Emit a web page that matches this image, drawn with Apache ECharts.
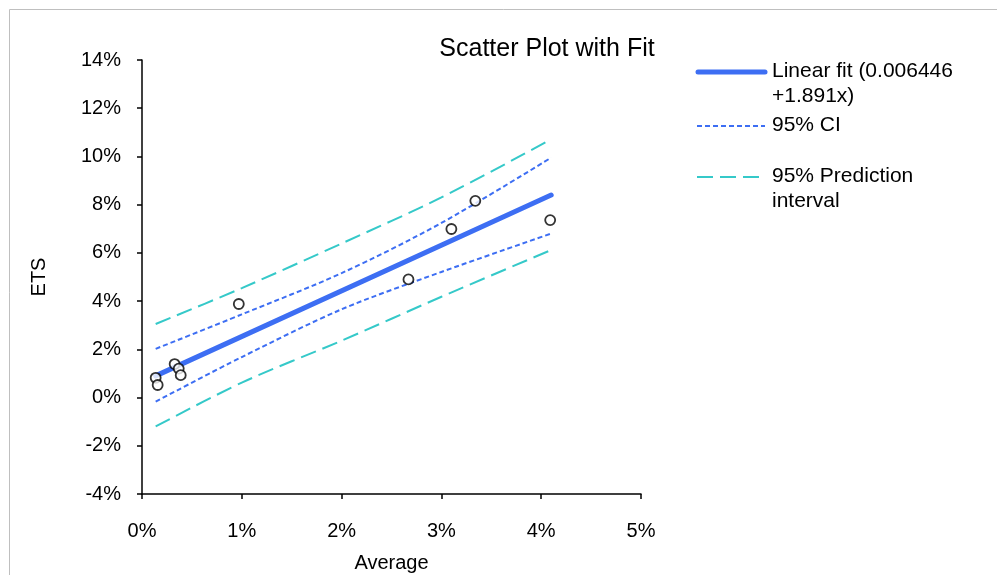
<!DOCTYPE html>
<html>
<head>
<meta charset="utf-8">
<script src="https://cdn.jsdelivr.net/npm/echarts@6/dist/echarts.min.js"></script>
<style>
html,body{margin:0;padding:0;background:#fff;}
#chart{width:997px;height:575px;}
</style>
</head>
<body>
<div id="chart"></div>
<script>
// Data (values in percent units)
var pointX = [0.137, 0.157, 0.327, 0.368, 0.388, 0.97, 2.67, 3.10, 3.34, 4.09];
var pointY = [0.82, 0.52, 1.39, 1.20, 0.93, 3.88, 4.90, 6.99, 8.16, 7.36];

var fitX = [0.137, 4.10];
var fitY = [0.90, 8.40];

var bandX = [0.137, 1.0, 2.0, 3.0, 4.10];
var ciUpper = [2.02, 3.45, 5.16, 7.24, 9.95];
var ciLower = [-0.17, 1.68, 3.66, 5.21, 6.80];
var piUpper = [3.05, 4.54, 6.39, 8.30, 10.71];
var piLower = [-1.20, 0.62, 2.36, 4.18, 6.12];

var xTicks = [0, 1, 2, 3, 4, 5];
var yTicks = [-4, -2, 0, 2, 4, 6, 8, 10, 12, 14];

var titleText = 'Scatter Plot with Fit';
var legendLabels = ['Linear fit (0.006446\n+1.891x)', '95% CI', '95% Prediction\ninterval'];

function pairs(xs, ys) { return xs.map(function (x, i) { return [x, ys[i]]; }); }

var FONT = '"Liberation Sans", Arial, sans-serif';
var BLUE = '#3d6ef3';
var CYAN = '#35c9c9';
var FS = 20;
var LFS = 21;

var chart = echarts.init(document.getElementById('chart'), null, { renderer: 'canvas' });

var option = {
  animation: false,
  backgroundColor: '#fff',
  textStyle: { fontFamily: FONT },
  title: {
    text: titleText,
    left: 542, top: 32,
    textAlign: 'center',
    textStyle: { fontFamily: FONT, fontSize: 25, fontWeight: 'normal', color: '#000' }
  },
  grid: { left: 142, top: 60, width: 499, height: 434, containLabel: false, outerBoundsMode: 'none' },
  xAxis: {
    type: 'value', min: xTicks[0], max: xTicks[xTicks.length - 1], interval: 1,
    name: 'Average', nameLocation: 'middle', nameGap: 59,
    nameTextStyle: { fontFamily: FONT, fontSize: FS, color: '#000' },
    axisLine: { show: true, onZero: false, lineStyle: { color: '#000', width: 1.5 } },
    axisTick: { show: true, length: 5, lineStyle: { color: '#000', width: 1.5 } },
    axisLabel: { formatter: '{value}%', fontFamily: FONT, fontSize: FS, color: '#000', margin: 27 },
    splitLine: { show: false }
  },
  yAxis: {
    type: 'value', min: yTicks[0], max: yTicks[yTicks.length - 1], interval: 2,
    name: 'ETS', nameLocation: 'middle', nameGap: 93, nameRotate: 90,
    nameTextStyle: { fontFamily: FONT, fontSize: FS, color: '#000' },
    axisLine: { show: true, onZero: false, lineStyle: { color: '#000', width: 1.5 } },
    axisTick: { show: true, length: 5, lineStyle: { color: '#000', width: 1.5 } },
    axisLabel: { formatter: '{value}%', fontFamily: FONT, fontSize: FS, color: '#000', margin: 21 },
    splitLine: { show: false }
  },
  series: [
    { type: 'line', data: pairs(bandX, piUpper), smooth: 0.3, symbol: 'none', z: 2,
      lineStyle: { color: CYAN, width: 2, type: [16, 7] } },
    { type: 'line', data: pairs(bandX, piLower), smooth: 0.3, symbol: 'none', z: 2,
      lineStyle: { color: CYAN, width: 2, type: [16, 7] } },
    { type: 'line', data: pairs(bandX, ciUpper), smooth: 0.3, symbol: 'none', z: 3,
      lineStyle: { color: BLUE, width: 2, type: [5, 3] } },
    { type: 'line', data: pairs(bandX, ciLower), smooth: 0.3, symbol: 'none', z: 3,
      lineStyle: { color: BLUE, width: 2, type: [5, 3] } },
    { type: 'line', data: pairs(fitX, fitY), symbol: 'none', z: 4,
      lineStyle: { color: BLUE, width: 5, cap: 'round' } },
    { type: 'scatter', data: pairs(pointX, pointY), symbol: 'circle', symbolSize: 10, z: 5,
      itemStyle: { color: '#fff', borderColor: '#000', borderWidth: 1.8 } }
  ],
  graphic: [
    { type: 'rect', shape: { x: 9.5, y: 9.5, width: 1100, height: 700 },
      style: { fill: 'none', stroke: '#bfbfbf', lineWidth: 1 }, silent: true, z: -1 },
    // legend
    { type: 'line', shape: { x1: 698, y1: 72, x2: 765, y2: 72 },
      style: { stroke: BLUE, lineWidth: 5, lineCap: 'round' } },
    { type: 'text', left: 772, top: 59,
      style: { text: legendLabels[0], font: LFS + 'px ' + FONT, fill: '#000', lineHeight: 25 } },
    { type: 'line', shape: { x1: 697, y1: 126, x2: 765, y2: 126 },
      style: { stroke: BLUE, lineWidth: 2, lineDash: [5, 3] } },
    { type: 'text', left: 772, top: 113,
      style: { text: legendLabels[1], font: LFS + 'px ' + FONT, fill: '#000', lineHeight: 25 } },
    { type: 'line', shape: { x1: 697, y1: 177, x2: 765, y2: 177 },
      style: { stroke: CYAN, lineWidth: 2, lineDash: [16, 7] } },
    { type: 'text', left: 772, top: 164,
      style: { text: legendLabels[2], font: LFS + 'px ' + FONT, fill: '#000', lineHeight: 25 } }
  ]
};
chart.setOption(option);
</script>
</body>
</html>
